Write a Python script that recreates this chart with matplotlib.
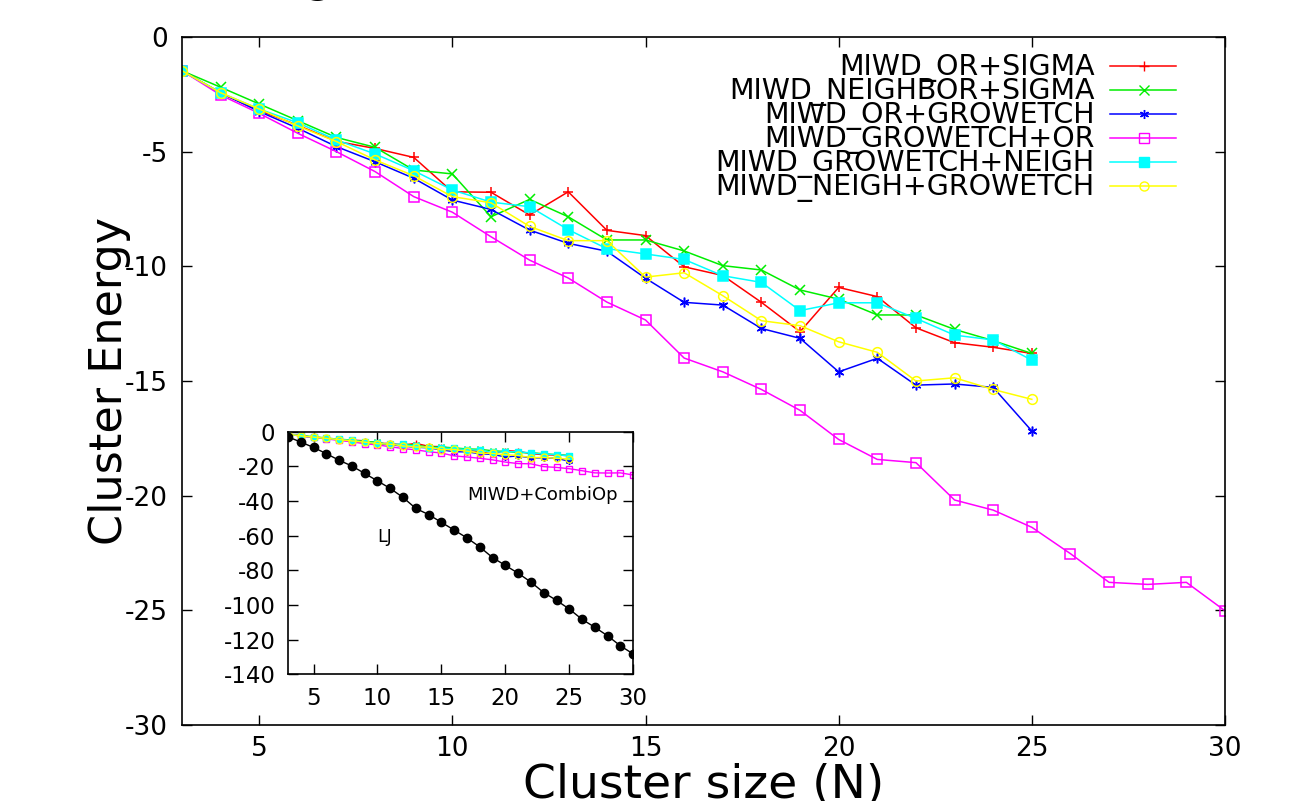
import numpy as np
import matplotlib
matplotlib.use("Agg")
import matplotlib.pyplot as plt

plt.rcParams['font.family'] = ['DejaVu Sans']
plt.rcParams['axes.unicode_minus'] = False

# cluster sizes
n_main = list(range(3, 26))
n_long = list(range(3, 31))

# MIWD variants
or_sigma = [-1.47, -2.45, -3.2, -3.85, -4.55, -4.86, -5.25, -6.75, -6.77, -7.76,
            -6.75, -8.43, -8.66, -10.02, -10.4, -11.57, -12.85, -10.92, -11.32,
            -12.68, -13.33, -13.53, -13.8]
neighbor_sigma = [-1.47, -2.19, -2.92, -3.65, -4.38, -4.81, -5.8, -5.97, -7.84, -7.08,
                  -7.84, -8.85, -8.85, -9.33, -9.97, -10.16, -11.03, -11.43, -12.12,
                  -12.12, -12.75, -13.24, -13.8]
or_growetch = [-1.47, -2.43, -3.25, -3.98, -4.78, -5.44, -6.16, -7.11, -7.52, -8.42,
               -9.0, -9.34, -10.52, -11.57, -11.69, -12.71, -13.14, -14.6, -14.01,
               -15.18, -15.13, -15.28, -17.18]
growetch_or = [-1.47, -2.53, -3.33, -4.2, -5.0, -5.87, -6.96, -7.64, -8.71, -9.73,
               -10.51, -11.56, -12.34, -14.0, -14.6, -15.37, -16.28, -17.55, -18.42,
               -18.56, -20.19, -20.63, -21.38, -22.53, -23.78, -23.87, -23.78, -25.02]
growetch_neigh = [-1.47, -2.43, -3.14, -3.74, -4.49, -5.1, -5.83, -6.67, -7.2, -7.4,
                  -8.4, -9.23, -9.46, -9.7, -10.41, -10.7, -11.93, -11.59, -11.59,
                  -12.27, -13.0, -13.21, -14.09]
neigh_growetch = [-1.47, -2.43, -3.14, -3.88, -4.56, -5.36, -6.05, -6.96, -7.23, -8.26,
                  -8.88, -8.88, -10.47, -10.28, -11.28, -12.37, -12.59, -13.29, -13.75,
                  -15.0, -14.86, -15.37, -15.8]

# Lennard-Jones global minima
lj = [-3.0, -6.0, -9.104, -12.712, -16.505, -19.821, -24.113, -28.423, -32.766,
      -37.968, -44.327, -47.845, -52.323, -56.816, -61.318, -66.531, -72.660,
      -77.177, -81.685, -86.810, -92.844, -97.349, -102.373, -108.316, -112.874,
      -117.822, -123.587, -128.287]

series = [
    ("MIWD_OR+SIGMA", n_main, or_sigma, "#ff0000", "+", "#ff0000"),
    ("MIWD_NEIGHBOR+SIGMA", n_main, neighbor_sigma, "#00ee00", "x", "#00ee00"),
    ("MIWD_OR+GROWETCH", n_main, or_growetch, "#0000ff", (6, 2, 0), "#0000ff"),
    ("MIWD_GROWETCH+OR", n_long, growetch_or, "#ff00ff", "s", "none"),
    ("MIWD_GROWETCH+NEIGH", n_main, growetch_neigh, "#00ffff", "s", "#00ffff"),
    ("MIWD_NEIGH+GROWETCH", n_main, neigh_growetch, "#ffff00", "o", "none"),
]

fig = plt.figure(figsize=(12.96, 8.01), dpi=100)
ax = fig.add_axes([0.1404, 0.0949, 0.8048, 0.8589])

for label, xs, ys, col, mk, fc in series:
    ax.plot(xs, ys, color=col, lw=1.1, marker=mk, markersize=7,
            markerfacecolor=fc, markeredgecolor=col, markeredgewidth=1.1)

ax.set_xlim(3, 30)
ax.set_ylim(-30, 0)
ax.set_xticks(range(5, 31, 5))
ax.set_yticks(range(0, -31, -5))
ax.tick_params(direction='in', top=True, right=True, length=7, width=1,
               labelsize=19)
ax.tick_params(axis='y', pad=10)
ax.tick_params(axis='x', pad=8)
for s in ax.spines.values():
    s.set_linewidth(1.2)

ax.set_xlabel("Cluster size (N)", fontsize=34)
ax.xaxis.set_label_coords(0.5, -0.055)
ax.xaxis.label.set_va('top')
ax.set_ylabel("Cluster Energy", fontsize=32)
ax.yaxis.set_label_coords(-0.049, 0.5)

# key, right-aligned text with sample line to the right
for i, (label, xs, ys, col, mk, fc) in enumerate(series):
    yk = 1 - (75 + 24 * i - 37) / 688
    ax.text(0.875, yk, label, transform=ax.transAxes, ha='right',
            va='baseline', fontsize=20.5)
    yl = 1 - (65.7 + 24 * i - 37) / 688
    ax.plot([0.890, 0.922, 0.953], [yl, yl, yl], transform=ax.transAxes,
            color=col, lw=1.1, marker=mk, markevery=[1], markersize=6.5,
            markerfacecolor=fc, markeredgecolor=col, clip_on=False)

# inset
ins = fig.add_axes([0.2222, 0.1582, 0.2664, 0.3029])
for label, xs, ys, col, mk, fc in series:
    ins.plot(xs, ys, color=col, lw=1.0, marker=mk, markersize=5,
             markerfacecolor=fc, markeredgecolor=col, markeredgewidth=1.0)
ins.plot(n_long, lj, color='black', lw=1.0, marker='o', markersize=6,
         markerfacecolor='black')
ins.set_xlim(3, 30)
ins.set_ylim(-140, 0)
ins.set_xticks(range(5, 31, 5))
ins.set_yticks(range(0, -141, -20))
ins.tick_params(direction='in', top=True, right=True, length=7, width=1,
                labelsize=16.5)
ins.tick_params(axis='y', pad=9)
ins.tick_params(axis='x', pad=9)
for s in ins.spines.values():
    s.set_linewidth(1.2)
ins.text(17.0, -36.5, "MIWD+CombiOp", fontsize=13, va='center')
ins.text(10.0, -60.8, "LJ", fontsize=12.5, va='center')

# clipped remnant of a title above the frame
fig.text(316 / 1296, 1.0085, "@", fontsize=32, ha='center', va='baseline')

fig.savefig("out.png", dpi=100)
